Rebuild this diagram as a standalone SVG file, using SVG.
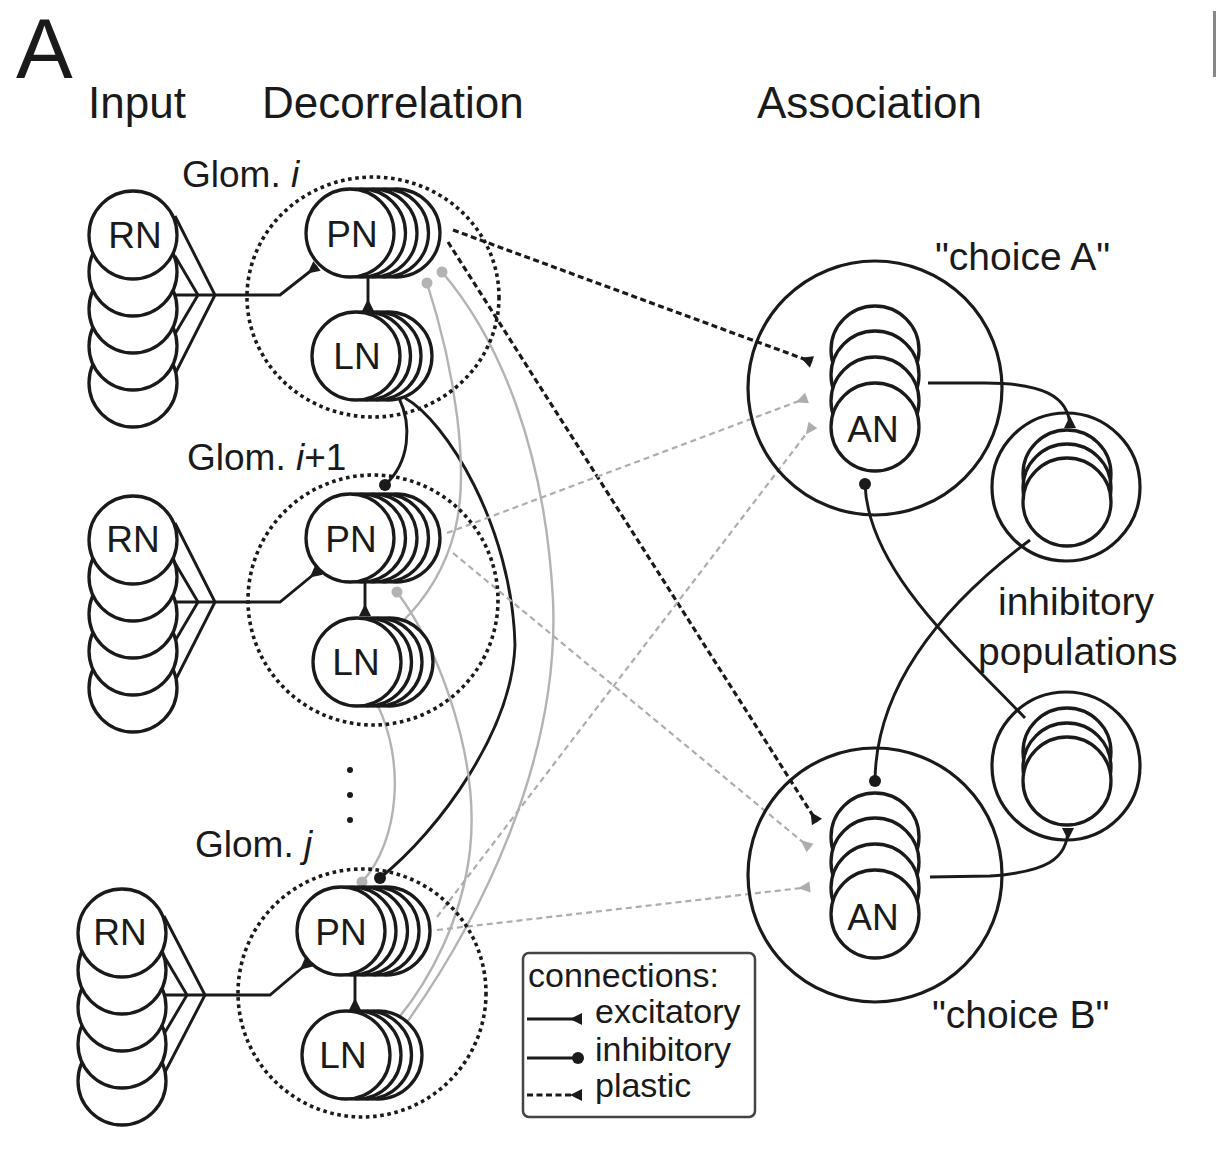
<svg xmlns="http://www.w3.org/2000/svg" width="1216" height="1156" viewBox="0 0 1216 1156">
<defs>
<style>
text{font-family:"Liberation Sans",Arial,Helvetica,sans-serif;fill:#1a1a1a}
.h{font-size:44px}
.g{font-size:37px}
.lb{font-size:37px;text-anchor:middle}
.c{font-size:39px}
.lg{font-size:34px}
.n{fill:#fff;stroke:#1a1a1a;stroke-width:3.3}
.o{fill:none;stroke:#1a1a1a;stroke-width:3.2}
.dt{fill:none;stroke:#1a1a1a;stroke-width:3.6;stroke-dasharray:3.6 3.6}
.k{fill:none;stroke:#1a1a1a;stroke-width:2.9}
.kd{fill:none;stroke:#1a1a1a;stroke-width:3.2;stroke-dasharray:6 3.5}
.gs{fill:none;stroke:#b3b3b3;stroke-width:2.4}
.gd{fill:none;stroke:#adadad;stroke-width:2.2;stroke-dasharray:6 4}
</style>
<marker id="ek" viewBox="0 -7 14 14" refX="12" refY="0" markerWidth="14" markerHeight="14" markerUnits="userSpaceOnUse" orient="auto"><path d="M0,0 L12,-6 L12,6 Z" fill="#1a1a1a"/></marker>
<marker id="eg" viewBox="0 -7 14 14" refX="12" refY="0" markerWidth="14" markerHeight="14" markerUnits="userSpaceOnUse" orient="auto"><path d="M0,0 L12,-5.5 L12,5.5 Z" fill="#adadad"/></marker>
<marker id="ik" viewBox="-7 -7 14 14" refX="0" refY="0" markerWidth="14" markerHeight="14" markerUnits="userSpaceOnUse"><circle r="6" fill="#1a1a1a"/></marker>
<marker id="ig" viewBox="-7 -7 14 14" refX="0" refY="0" markerWidth="14" markerHeight="14" markerUnits="userSpaceOnUse"><circle r="5.5" fill="#b3b3b3"/></marker>
</defs>
<rect width="1216" height="1156" fill="#fff"/>

<g id="labels">
<text x="16" y="78" font-size="85">A</text>
<rect x="1213" y="11" width="3" height="66" fill="#888"/>
<text x="88" y="118" class="h">Input</text>
<text x="262" y="118" class="h">Decorrelation</text>
<text x="757" y="118" class="h">Association</text>
<text x="182" y="187" class="g">Glom. <tspan font-style="italic">i</tspan></text>
<text x="187" y="470" class="g">Glom. <tspan font-style="italic">i</tspan>+1</text>
<text x="195" y="857" class="g">Glom. <tspan font-style="italic">j</tspan></text>
<circle cx="350" cy="770" r="3" fill="#1a1a1a"/>
<circle cx="350" cy="795" r="3" fill="#1a1a1a"/>
<circle cx="350" cy="820" r="3" fill="#1a1a1a"/>
<text x="935" y="270" class="c">"choice A"</text>
<text x="932" y="1028" class="c">"choice B"</text>
<text x="998" y="615" class="c">inhibitory</text>
<text x="978" y="665" class="c">populations</text>
</g>

<g id="connectors">
<path class="k" d="M175 216 L215 295 L175 374 M175 256 L198 295 L175 334"/>
<path class="k" d="M170 295 L280 295 L317 266" marker-end="url(#ek)"/>
<path class="k" d="M175 523 L215 602 L175 681 M175 563 L198 602 L175 641"/>
<path class="k" d="M170 602 L280 602 L319 570" marker-end="url(#ek)"/>
<path class="k" d="M164 916 L205 995 L164 1074 M164 956 L187 995 L164 1034"/>
<path class="k" d="M160 995 L270 995 L309 962" marker-end="url(#ek)"/>
<path class="k" d="M368 277 L368 311" marker-end="url(#ek)"/>
<path class="k" d="M365 582 L365 616" marker-end="url(#ek)"/>
<path class="k" d="M355 975 L355 1010" marker-end="url(#ek)"/>
<path class="k" d="M399 398 C412 425, 410 462, 385 485" marker-end="url(#ik)"/>
<path class="k" d="M405 398 C445 420, 512 525, 515 645 C512 730, 440 830, 380 878" marker-end="url(#ik)"/>
<path class="gs" d="M427 283 C455 370, 470 470, 455 530 C445 570, 425 600, 400 624" marker-start="url(#ig)"/>
<path class="gs" d="M442 272 C500 340, 545 450, 553 600 C560 760, 480 920, 405 1025" marker-start="url(#ig)"/>
<path class="gs" d="M397 592 C440 650, 480 760, 470 850 C462 920, 430 980, 397 1020" marker-start="url(#ig)"/>
<path class="gs" d="M377 704 C405 760, 400 840, 362 882" marker-end="url(#ig)"/>
<path class="kd" d="M453 230 L812 362" marker-end="url(#ek)"/>
<path class="kd" d="M448 242 L817 822" marker-end="url(#ek)"/>
<path class="gd" d="M447 533 L807 398" marker-end="url(#eg)"/>
<path class="gd" d="M453 553 L810 848" marker-end="url(#eg)"/>
<path class="gd" d="M437 917 L813 425" marker-end="url(#eg)"/>
<path class="gd" d="M437 930 L810 887" marker-end="url(#eg)"/>
<path class="k" d="M928 383 L985 383 C1040 383, 1070 395, 1070 428" marker-end="url(#ek)"/>
<path class="k" d="M930 877 L990 876 C1045 872, 1068 860, 1068 828" marker-end="url(#ek)"/>
<path class="k" d="M1025 718 C960 650, 868 570, 865 484" marker-end="url(#ik)"/>
<path class="k" d="M1030 540 C950 600, 876 680, 875 781" marker-end="url(#ik)"/>
</g>

<g id="glom-i">
<ellipse class="dt" cx="373" cy="297" rx="126" ry="120"/>
<g id="rn-i">
<circle class="n" cx="133" cy="383" r="44"/><circle class="n" cx="133" cy="346" r="44"/><circle class="n" cx="133" cy="309" r="44"/><circle class="n" cx="133" cy="272" r="44"/><circle class="n" cx="133" cy="235" r="44"/>
<text x="135" y="248" class="lb">RN</text>
</g>
<g id="pn-i">
<circle class="n" cx="396" cy="233" r="44"/><circle class="n" cx="384.5" cy="233" r="44"/><circle class="n" cx="373" cy="233" r="44"/><circle class="n" cx="361.5" cy="233" r="44"/><circle class="n" cx="350" cy="233" r="44"/>
<text x="352" y="247" class="lb">PN</text>
</g>
<g id="ln-i">
<circle class="n" cx="388" cy="356" r="44"/><circle class="n" cx="377" cy="356" r="44"/><circle class="n" cx="366.5" cy="356" r="44"/><circle class="n" cx="356" cy="356" r="44"/>
<text x="357" y="369" class="lb">LN</text>
</g>
</g>

<g id="glom-i1">
<circle class="dt" cx="373" cy="600" r="125"/>
<g id="rn-i1">
<circle class="n" cx="133" cy="688" r="44"/><circle class="n" cx="133" cy="651" r="44"/><circle class="n" cx="133" cy="614" r="44"/><circle class="n" cx="133" cy="577" r="44"/><circle class="n" cx="133" cy="540" r="44"/>
<text x="133" y="552" class="lb">RN</text>
</g>
<g id="pn-i1">
<circle class="n" cx="396" cy="538" r="44"/><circle class="n" cx="384.5" cy="538" r="44"/><circle class="n" cx="373" cy="538" r="44"/><circle class="n" cx="361.5" cy="538" r="44"/><circle class="n" cx="350" cy="538" r="44"/>
<text x="351" y="552" class="lb">PN</text>
</g>
<g id="ln-i1">
<circle class="n" cx="389" cy="662" r="44"/><circle class="n" cx="378" cy="662" r="44"/><circle class="n" cx="367.5" cy="662" r="44"/><circle class="n" cx="357" cy="662" r="44"/>
<text x="356" y="675" class="lb">LN</text>
</g>
</g>

<g id="glom-j">
<circle class="dt" cx="362" cy="993" r="124"/>
<g id="rn-j">
<circle class="n" cx="122" cy="1081" r="44"/><circle class="n" cx="122" cy="1044" r="44"/><circle class="n" cx="122" cy="1007" r="44"/><circle class="n" cx="122" cy="970" r="44"/><circle class="n" cx="122" cy="933" r="44"/>
<text x="120" y="945" class="lb">RN</text>
</g>
<g id="pn-j">
<circle class="n" cx="386" cy="931" r="44"/><circle class="n" cx="375" cy="931" r="44"/><circle class="n" cx="363.5" cy="931" r="44"/><circle class="n" cx="352" cy="931" r="44"/><circle class="n" cx="341" cy="931" r="44"/>
<text x="341" y="945" class="lb">PN</text>
</g>
<g id="ln-j">
<circle class="n" cx="378" cy="1055" r="44"/><circle class="n" cx="367.5" cy="1055" r="44"/><circle class="n" cx="357" cy="1055" r="44"/><circle class="n" cx="346" cy="1055" r="44"/>
<text x="343" y="1068" class="lb">LN</text>
</g>
</g>

<g id="choice-a">
<circle class="o" cx="875" cy="388" r="127"/>
<circle class="n" cx="875" cy="350" r="44"/><circle class="n" cx="875" cy="375" r="44"/><circle class="n" cx="875" cy="401" r="44"/><circle class="n" cx="875" cy="427" r="44"/>
<text x="873" y="442" class="lb">AN</text>
</g>

<g id="choice-b">
<circle class="o" cx="875" cy="875" r="127"/>
<circle class="n" cx="875" cy="837" r="44"/><circle class="n" cx="875" cy="862" r="44"/><circle class="n" cx="875" cy="888" r="44"/><circle class="n" cx="875" cy="914" r="44"/>
<text x="873" y="930" class="lb">AN</text>
</g>

<g id="inh-a">
<circle class="o" cx="1066" cy="487" r="74"/>
<circle class="n" cx="1067" cy="474" r="44"/><circle class="n" cx="1067" cy="488" r="44"/><circle class="n" cx="1067" cy="502" r="44"/>
</g>

<g id="inh-b">
<circle class="o" cx="1066" cy="766" r="74"/>
<circle class="n" cx="1067" cy="752" r="44"/><circle class="n" cx="1067" cy="767" r="44"/><circle class="n" cx="1067" cy="781" r="44"/>
</g>

<g id="legend">
<rect x="523" y="953" width="232" height="164" rx="6" fill="#fff" stroke="#444" stroke-width="2.5"/>
<text x="528" y="987" class="lg">connections:</text>
<path class="k" d="M527 1019 H582" marker-end="url(#ek)"/>
<text x="595" y="1023" class="lg">excitatory</text>
<path class="k" d="M527 1058 H578" marker-end="url(#ik)"/>
<text x="595" y="1061" class="lg">inhibitory</text>
<path class="kd" d="M527 1095 H582" marker-end="url(#ek)"/>
<text x="595" y="1097" class="lg">plastic</text>
</g>
</svg>
